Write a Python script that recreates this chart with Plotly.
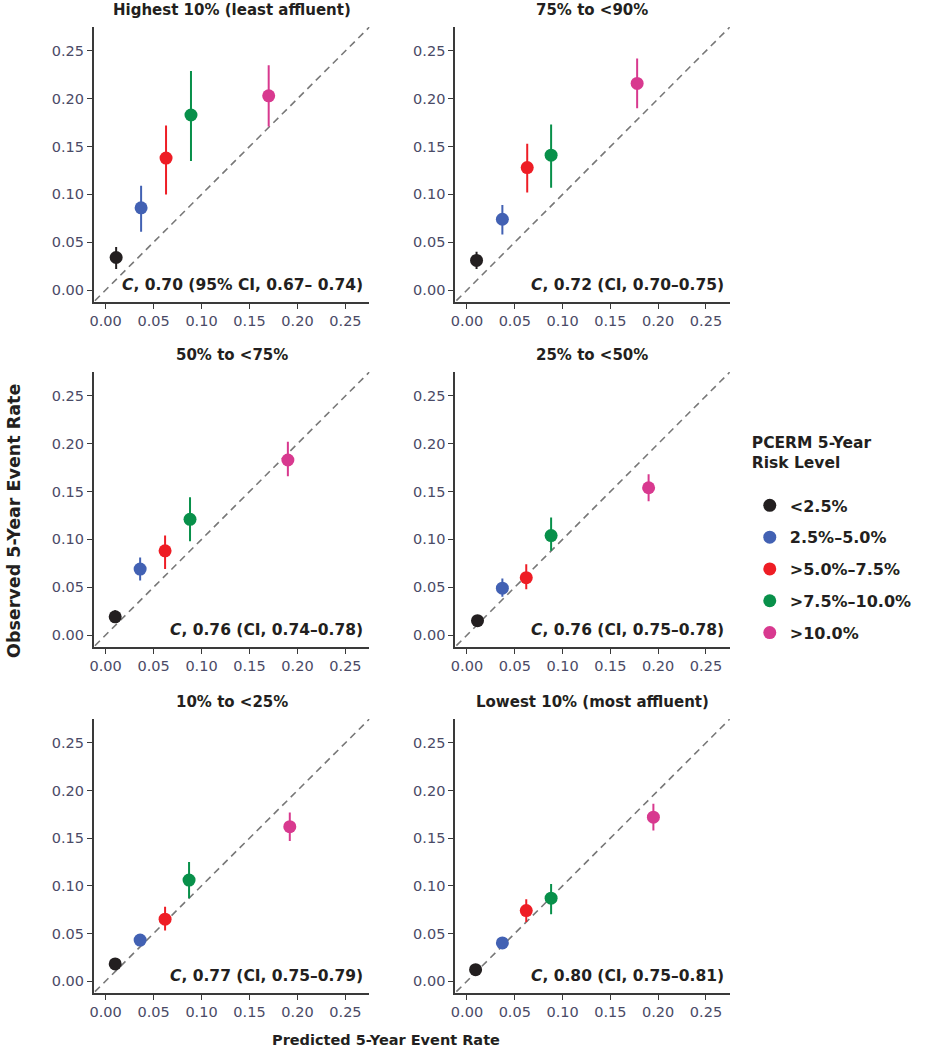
import plotly.graph_objects as go

# ---------------- data ----------------
panel_titles = [
    "Highest 10% (least affluent)",
    "75% to <90%",
    "50% to <75%",
    "25% to <50%",
    "10% to <25%",
    "Lowest 10% (most affluent)",
]
c_labels = [
    "<i>C</i>, 0.70 (95% CI, 0.67\u2013 0.74)",
    "<i>C</i>, 0.72 (CI, 0.70\u20130.75)",
    "<i>C</i>, 0.76 (CI, 0.74\u20130.78)",
    "<i>C</i>, 0.76 (CI, 0.75\u20130.78)",
    "<i>C</i>, 0.77 (CI, 0.75\u20130.79)",
    "<i>C</i>, 0.80 (CI, 0.75\u20130.81)",
]
risk_levels = ["<2.5%", "2.5%\u20135.0%", ">5.0%\u20137.5%", ">7.5%\u201310.0%", ">10.0%"]
risk_colors = ["#231f20", "#4261b3", "#ee1d25", "#08904a", "#d8398f"]

predicted = [
    [0.011, 0.037, 0.063, 0.089, 0.170],
    [0.010, 0.037, 0.063, 0.088, 0.178],
    [0.010, 0.036, 0.062, 0.088, 0.190],
    [0.011, 0.037, 0.062, 0.088, 0.190],
    [0.010, 0.036, 0.062, 0.087, 0.192],
    [0.009, 0.037, 0.062, 0.088, 0.195],
]
observed = [
    [0.034, 0.086, 0.138, 0.183, 0.203],
    [0.031, 0.074, 0.128, 0.141, 0.216],
    [0.019, 0.069, 0.088, 0.121, 0.183],
    [0.015, 0.049, 0.060, 0.104, 0.154],
    [0.018, 0.043, 0.065, 0.106, 0.162],
    [0.012, 0.040, 0.074, 0.087, 0.172],
]
ci_low = [
    [0.022, 0.061, 0.100, 0.135, 0.171],
    [0.022, 0.058, 0.102, 0.107, 0.190],
    [0.014, 0.057, 0.069, 0.098, 0.166],
    [0.011, 0.040, 0.048, 0.088, 0.140],
    [0.015, 0.040, 0.053, 0.087, 0.147],
    [0.010, 0.038, 0.062, 0.070, 0.158],
]
ci_high = [
    [0.045, 0.109, 0.172, 0.229, 0.235],
    [0.040, 0.089, 0.153, 0.173, 0.242],
    [0.026, 0.081, 0.104, 0.144, 0.202],
    [0.019, 0.059, 0.074, 0.123, 0.168],
    [0.020, 0.046, 0.078, 0.125, 0.177],
    [0.015, 0.042, 0.086, 0.102, 0.186],
]
tick_vals = [0.00, 0.05, 0.10, 0.15, 0.20, 0.25]
tick_text = ["0.00", "0.05", "0.10", "0.15", "0.20", "0.25"]
diag = [-0.02, 0.30]

# ---------------- layout geometry ----------------
W, H = 928, 1050
col_px = [(90, 367), (453, 729)]
row_px = [(27, 302), (372, 647), (719, 993)]
axis_range = [-0.0125, 0.275]

FONT = "DejaVu Sans"
TEXT_COLOR = "#231f20"
TICK_COLOR = "#4a4a66"

fig = go.Figure()
annotations = []

for p in range(6):
    r, c = divmod(p, 2)
    idx = p + 1
    xa = "x" if idx == 1 else f"x{idx}"
    ya = "y" if idx == 1 else f"y{idx}"
    x0, x1 = col_px[c]
    y0, y1 = row_px[r]
    xd = [x0 / W, x1 / W]
    yd = [1 - y1 / H, 1 - y0 / H]
    axis_common = dict(
        range=axis_range, showgrid=False, zeroline=False, showline=True,
        linecolor="#3a3a3a", linewidth=1.5, ticks="outside", ticklen=5,
        tickcolor="#3a3a3a", tickwidth=1.2, tickvals=tick_vals, ticktext=tick_text,
        tickfont=dict(family=FONT, size=14.5, color=TICK_COLOR), fixedrange=True,
    )
    fig.layout[f"xaxis{'' if idx == 1 else idx}"] = dict(
        domain=xd, anchor=ya, **axis_common)
    fig.layout[f"yaxis{'' if idx == 1 else idx}"] = dict(
        domain=yd, anchor=xa, **axis_common)

    # identity line
    fig.add_trace(go.Scatter(
        x=diag, y=diag, mode="lines", xaxis=xa, yaxis=ya,
        line=dict(color="#777777", width=1.6, dash="7px,5px"),
        showlegend=False, hoverinfo="skip"))

    for k in range(5):
        obs = observed[p][k]
        fig.add_trace(go.Scatter(
            x=[predicted[p][k]], y=[obs], mode="markers",
            xaxis=xa, yaxis=ya,
            marker=dict(color=risk_colors[k], size=13, line=dict(width=0)),
            error_y=dict(type="data", symmetric=False,
                         array=[ci_high[p][k] - obs],
                         arrayminus=[obs - ci_low[p][k]],
                         color=risk_colors[k], thickness=2, width=0),
            name=risk_levels[k], legendgroup=risk_levels[k],
            showlegend=(p == 0)))

    # panel title
    annotations.append(dict(
        text=f"<b>{panel_titles[p]}</b>", xref="paper", yref="paper",
        x=(xd[0] + xd[1]) / 2, y=yd[1] + 17 / H, xanchor="center", yanchor="middle",
        showarrow=False, font=dict(family=FONT, size=15, color=TEXT_COLOR)))
    # C statistic
    annotations.append(dict(
        text=f"<b>{c_labels[p]}</b>", xref=f"{xa} domain", yref=f"{ya} domain",
        x=0.985, y=0.062, xanchor="right", yanchor="middle",
        showarrow=False, font=dict(family=FONT, size=15.5, color=TEXT_COLOR)))

annotations.append(dict(
    text="<b>Observed 5-Year Event Rate</b>", xref="paper", yref="paper",
    x=10 / W, y=1 - 521 / H, xanchor="center", yanchor="middle", textangle=-90,
    showarrow=False, font=dict(family=FONT, size=17.5, color=TEXT_COLOR)))
annotations.append(dict(
    text="<b>Predicted 5-Year Event Rate</b>", xref="paper", yref="paper",
    x=384 / W, y=1 - 1040 / H, xanchor="center", yanchor="middle",
    showarrow=False, font=dict(family=FONT, size=14.5, color=TEXT_COLOR)))

fig.update_layout(
    width=W, height=H,
    margin=dict(l=0, r=0, t=0, b=0),
    paper_bgcolor="white", plot_bgcolor="white",
    annotations=annotations,
    showlegend=True,
    legend=dict(
        x=749 / W, y=1 - 428 / H, xanchor="left", yanchor="top",
        title=dict(text="<b>PCERM 5-Year<br>Risk Level</b><br> ",
                   font=dict(family=FONT, size=15.5, color=TEXT_COLOR)),
        font=dict(family=FONT, size=16, color=TEXT_COLOR, weight="bold"),
        tracegroupgap=8, bgcolor="rgba(0,0,0,0)",
    ),
)

fig.write_html("out.html",
               config={"displayModeBar": False},
               post_script="document.body.style.margin='0px';"
                           "document.body.style.overflow='hidden';")
